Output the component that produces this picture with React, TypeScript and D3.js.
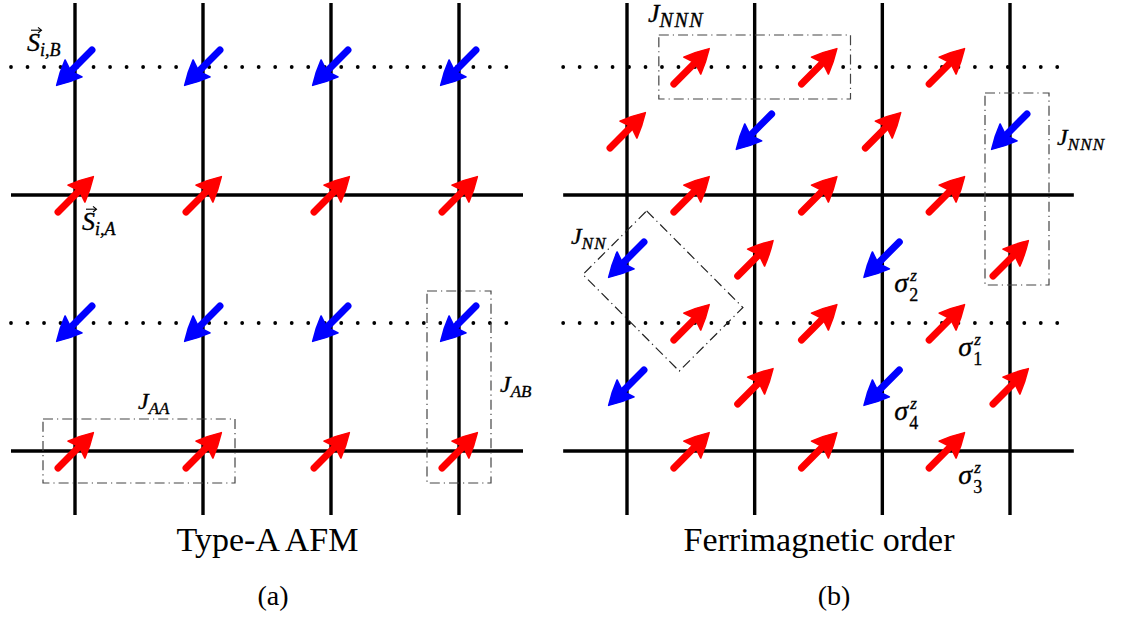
import React from "react";
import * as d3 from "d3";

const W = 1123;
const H = 617;

// Lattice indices shared by both panels
const columns = [0, 1, 2, 3];
const rows = [0, 1, 2, 3];

// Type-A AFM: dotted rows hold B spins, solid rows hold A spins
const afmRowKind = ["dotted", "solid", "dotted", "solid"];
const afmRowSpin = [-1, 1, -1, 1];

// Ferrimagnetic order: spins at bond midpoints on every row...
const ferriMidColumns = [0.5, 1.5, 2.5];
const ferriMidSpin = [
  [1, 1, 1],
  [1, 1, 1],
  [1, 1, 1],
  [1, 1, 1],
];
const ferriRowKind = ["dotted", "solid", "dotted", "solid"];
// ...and spins on the vertical lines between rows
const ferriLineRows = [0.5, 1.5, 2.5];
const ferriLineSpin = [
  [1, -1, 1, -1],
  [-1, 1, -1, 1],
  [-1, 1, -1, 1],
];

// Exchange-coupling boxes: pairs of sites in lattice units
const afmBoxes = [
  { sites: [[0, 3], [1, 3]], label: "AA" },
  { sites: [[3, 2], [3, 3]], label: "AB" },
];
const ferriBoxes = [
  { sites: [[0.5, 0], [1.5, 0]], label: "NNN" },
  { sites: [[3, 0.5], [3, 1.5]], label: "NNN" },
];
const ferriDiamond = { sites: [[0, 1.5], [0.5, 2]], label: "NN" };

// Pseudospin labels next to four sites
const sigmaLabels = [
  { site: [2, 1.5], idx: "2" },
  { site: [2.5, 2], idx: "1" },
  { site: [2, 2.5], idx: "4" },
  { site: [2.5, 3], idx: "3" },
];

const panelTitles = ["Type-A AFM", "Ferrimagnetic order"];
const panelTags = ["(a)", "(b)"];

const xa = d3.scaleLinear().domain([0, 3]).range([75, 459]);
const xb = d3.scaleLinear().domain([0, 3]).range([627, 1010]);
const y = d3.scaleLinear().domain([0, 3]).range([67, 451]);

const SERIF = "'Liberation Serif', 'Times New Roman', serif";
const RED = "#ff0000";
const BLUE = "#0000ff";
const BOX_DASH = "10 4 1.2 4";

function Spin({ cx, cy, s }: { cx: number; cy: number; s: number }) {
  const ang = s > 0 ? -Math.PI / 4 : (3 * Math.PI) / 4;
  const ux = Math.cos(ang);
  const uy = Math.sin(ang);
  const px = -uy;
  const py = ux;
  const headLen = 24;
  const hw = 12;
  const tip = [cx + ux * 26, cy + uy * 26];
  const tail = [cx - ux * 24, cy - uy * 24];
  const base = [tip[0] - ux * headLen, tip[1] - uy * headLen];
  const notch = [base[0] + ux * 4, base[1] + uy * 4];
  const color = s > 0 ? RED : BLUE;
  const path = d3.path();
  path.moveTo(tip[0], tip[1]);
  path.quadraticCurveTo(
    tip[0] - ux * headLen * 0.5 + px * hw * 0.62,
    tip[1] - uy * headLen * 0.5 + py * hw * 0.62,
    base[0] + px * hw,
    base[1] + py * hw
  );
  path.lineTo(notch[0], notch[1]);
  path.lineTo(base[0] - px * hw, base[1] - py * hw);
  path.quadraticCurveTo(
    tip[0] - ux * headLen * 0.5 - px * hw * 0.62,
    tip[1] - uy * headLen * 0.5 - py * hw * 0.62,
    tip[0],
    tip[1]
  );
  path.closePath();
  return (
    <g>
      <line
        x1={tail[0]}
        y1={tail[1]}
        x2={notch[0] + ux * 2}
        y2={notch[1] + uy * 2}
        stroke={color}
        strokeWidth={7}
        strokeLinecap="round"
      />
      <path d={path.toString()} fill={color} stroke={color} strokeWidth={1.5} strokeLinejoin="round" />
    </g>
  );
}

function DottedRow({ x0, x1, yy }: { x0: number; x1: number; yy: number }) {
  const step = (x1 - x0) / 30;
  const xs = d3.range(31).map((i) => x0 + i * step);
  return (
    <g>
      {xs.map((xx, i) => (
        <circle key={i} cx={xx} cy={yy} r={1.9} fill="#000" />
      ))}
    </g>
  );
}

function Grid({
  xs,
  rowKind,
}: {
  xs: d3.ScaleLinear<number, number>;
  rowKind: string[];
}) {
  return (
    <g>
      {columns.map((c) => (
        <line key={"v" + c} x1={xs(c)} x2={xs(c)} y1={y(-0.5)} y2={y(3.5)} stroke="#000" strokeWidth={3.4} />
      ))}
      {rows.map((r) =>
        rowKind[r] === "solid" ? (
          <line key={"h" + r} x1={xs(-0.5)} x2={xs(3.5)} y1={y(r)} y2={y(r)} stroke="#000" strokeWidth={3.4} />
        ) : (
          <DottedRow key={"d" + r} x0={xs(-0.5)} x1={xs(3.37)} yy={y(r)} />
        )
      )}
    </g>
  );
}

function MathLabel({
  x,
  yy,
  main,
  sub,
  size = 25,
  subSize = 18,
  vec = false,
  spacing = 0,
}: {
  x: number;
  yy: number;
  main: string;
  sub: string;
  size?: number;
  subSize?: number;
  vec?: boolean;
  spacing?: number;
}) {
  const ay = yy - size * 0.8;
  return (
    <g>
      <text
        x={x}
        y={yy}
        fontFamily={SERIF}
        fontStyle="italic"
        fontSize={size}
        fill="#000"
        stroke="#000"
        strokeWidth={0.35}
      >
        {main}
        <tspan dy={size * 0.2} fontSize={subSize} letterSpacing={spacing}>
          {sub}
        </tspan>
      </text>
      {vec && (
        <g stroke="#000" strokeWidth={1.1} fill="none">
          <line x1={x + 4} y1={ay} x2={x + 14} y2={ay} />
          <path d={`M${x + 11},${ay - 2.8} L${x + 14.5},${ay} L${x + 11},${ay + 2.8}`} />
        </g>
      )}
    </g>
  );
}

function boxRect(
  xs: d3.ScaleLinear<number, number>,
  sites: number[][],
  pad: number
) {
  const px = sites.map((s) => xs(s[0]));
  const py = sites.map((s) => y(s[1]));
  return {
    x0: d3.min(px)! - pad,
    x1: d3.max(px)! + pad,
    y0: d3.min(py)! - pad,
    y1: d3.max(py)! + pad,
  };
}

export default function App() {
  const pad = 32;
  const aBoxes = afmBoxes.map((b) => ({ ...b, r: boxRect(xa, b.sites, pad) }));
  const bBoxes = ferriBoxes.map((b) => ({ ...b, r: boxRect(xb, b.sites, pad) }));
  // the vertical NNN box sits slightly right of and above its pair
  bBoxes[1].r.x0 += 7;
  bBoxes[1].r.x1 += 7;
  bBoxes[1].r.y0 -= 6;
  bBoxes[1].r.y1 -= 6;

  // rotated rectangle around the nearest-neighbour pair
  const d0 = [xb(ferriDiamond.sites[0][0]), y(ferriDiamond.sites[0][1])];
  const d1 = [xb(ferriDiamond.sites[1][0]), y(ferriDiamond.sites[1][1])];
  const len = Math.hypot(d1[0] - d0[0], d1[1] - d0[1]);
  const ax = (d1[0] - d0[0]) / len;
  const ay = (d1[1] - d0[1]) / len;
  const nx = ay;
  const ny = -ax;
  const along = 23;
  const across = 45;
  const cshift = 4;
  const pA = [d0[0] - ax * along + cshift, d0[1] - ay * along];
  const pB = [d1[0] + ax * along + cshift, d1[1] + ay * along];
  const diamondPts = [
    [pA[0] + nx * across, pA[1] + ny * across],
    [pB[0] + nx * across, pB[1] + ny * across],
    [pB[0] - nx * across, pB[1] - ny * across],
    [pA[0] - nx * across, pA[1] - ny * across],
  ];

  return (
    <svg
      width={W}
      height={H}
      viewBox={`0 0 ${W} ${H}`}
      style={{ position: "fixed", left: 0, top: 0, background: "#fff" }}
    >
      <rect width={W} height={H} fill="#fff" />

      {/* Panel (a): Type-A AFM */}
      <Grid xs={xa} rowKind={afmRowKind} />
      {aBoxes.map((b, i) => (
        <rect
          key={"ab" + i}
          x={b.r.x0}
          y={b.r.y0}
          width={b.r.x1 - b.r.x0}
          height={b.r.y1 - b.r.y0}
          fill="none"
          stroke="#444"
          strokeWidth={1.2}
          strokeDasharray={BOX_DASH}
        />
      ))}
      {rows.map((r) =>
        columns.map((c) => <Spin key={`a${r}-${c}`} cx={xa(c)} cy={y(r)} s={afmRowSpin[r]} />)
      )}
      <MathLabel x={27} yy={51} main="S" sub="i,B" vec size={26} subSize={18} />
      <MathLabel x={82} yy={230} main="S" sub="i,A" vec size={26} subSize={18} />
      <MathLabel x={aBoxes[0].r.x0 + 95} yy={aBoxes[0].r.y0 - 10} main="J" sub="AA" size={24} subSize={17} />
      <MathLabel x={aBoxes[1].r.x1 + 9} yy={392} main="J" sub="AB" size={24} subSize={17} />

      {/* Panel (b): ferrimagnetic order */}
      <Grid xs={xb} rowKind={ferriRowKind} />
      {bBoxes.map((b, i) => (
        <rect
          key={"bb" + i}
          x={b.r.x0}
          y={b.r.y0}
          width={b.r.x1 - b.r.x0}
          height={b.r.y1 - b.r.y0}
          fill="none"
          stroke="#444"
          strokeWidth={1.2}
          strokeDasharray={BOX_DASH}
        />
      ))}
      <polygon
        points={diamondPts.map((p) => p.join(",")).join(" ")}
        fill="none"
        stroke="#222"
        strokeWidth={1.2}
        strokeDasharray={BOX_DASH}
      />
      {rows.map((r) =>
        ferriMidColumns.map((c, j) => (
          <Spin key={`bm${r}-${j}`} cx={xb(c)} cy={y(r)} s={ferriMidSpin[r][j]} />
        ))
      )}
      {ferriLineRows.map((r, i) =>
        columns.map((c) => <Spin key={`bl${i}-${c}`} cx={xb(c)} cy={y(r)} s={ferriLineSpin[i][c]} />)
      )}
      <MathLabel x={648} yy={22} main="J" sub="NNN" size={26} subSize={20} spacing={1.5} />
      <MathLabel x={bBoxes[1].r.x1 + 8} yy={145} main="J" sub="NNN" size={24} subSize={17} spacing={1.2} />
      <MathLabel x={571} yy={244} main="J" sub="NN" size={24} subSize={17} spacing={1.2} />
      {sigmaLabels.map((s) => {
        const sx = xb(s.site[0]) + 12;
        const sy = y(s.site[1]) + 33;
        return (
          <g key={"sig" + s.idx} fontFamily={SERIF} fill="#000" stroke="#000" strokeWidth={0.3}>
            <text x={sx} y={sy} fontSize={28} fontStyle="italic">
              σ
            </text>
            <text x={sx + 15} y={sy + 9} fontSize={18}>
              {s.idx}
            </text>
            <text x={sx + 16} y={sy - 11} fontSize={17} fontStyle="italic">
              z
            </text>
          </g>
        );
      })}

      {/* Titles and sub-figure tags */}
      <text x={267.5} y={551} textAnchor="middle" fontFamily={SERIF} fontSize={34} fill="#000">
        {panelTitles[0]}
      </text>
      <text x={819} y={551} textAnchor="middle" fontFamily={SERIF} fontSize={34} fill="#000">
        {panelTitles[1]}
      </text>
      <text x={273} y={605} textAnchor="middle" fontFamily={SERIF} fontSize={28} fill="#000">
        {panelTags[0]}
      </text>
      <text x={834} y={605} textAnchor="middle" fontFamily={SERIF} fontSize={28} fill="#000">
        {panelTags[1]}
      </text>
    </svg>
  );
}
